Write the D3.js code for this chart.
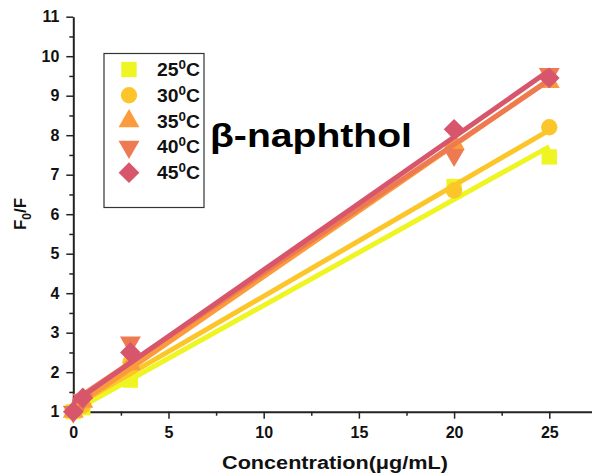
<!DOCTYPE html>
<html>
<head>
<meta charset="utf-8">
<script src="https://cdn.jsdelivr.net/npm/d3@7"></script>
<style>
  body { margin: 0; background: #fff; }
  text { font-family: "Liberation Sans", Arial, sans-serif; font-weight: bold; }
</style>
</head>
<body>
<div id="chart"></div>
<script>
// concentration values (µg/mL)
var conc = [0, 0.5, 3, 20, 25];
// F0/F at each temperature
var temps = ["25", "30", "35", "40", "45"];
var f25 = [1.0, 1.1, 1.8, 6.7, 7.45];
var f30 = [1.0, 1.15, 2.25, 6.6, 8.2];
var f35 = [1.0, 1.25, 2.2, 7.8, 9.35];
var f40 = [1.0, 1.3, 2.75, 7.5, 9.55];
var f45 = [1.0, 1.35, 2.5, 8.15, 9.45];
var colors = ["#eef522", "#fcc62a", "#fb9b3c", "#ee7a52", "#d7566c"];
var shapes = ["square", "circle", "up", "down", "diamond"];
var xTicks = [0, 5, 10, 15, 20, 25];
var yTicks = [1, 2, 3, 4, 5, 6, 7, 8, 9, 10, 11];

var series = [f25, f30, f35, f40, f45];

var width = 592, height = 475;
var svg = d3.select("#chart").append("svg")
    .attr("width", width)
    .attr("height", height);

var x = d3.scaleLinear().domain([0, 28]).range([73.3, 606.4]);
var y = d3.scaleLinear().domain([1, 11]).range([411.7, 16.7]);

// minor ticks
svg.append("g")
    .attr("transform", "translate(0,411.7)")
    .call(d3.axisBottom(x).tickValues([2.5, 7.5, 12.5, 17.5, 22.5, 27.5]).tickSize(4).tickFormat(""))
    .call(function(g) { g.select(".domain").remove(); })
    .selectAll("line").attr("stroke-width", 1.5).attr("stroke", "#222");
svg.append("g")
    .attr("transform", "translate(73.3,0)")
    .call(d3.axisLeft(y).tickValues(d3.range(1.5, 11, 1)).tickSize(4).tickFormat(""))
    .call(function(g) { g.select(".domain").remove(); })
    .selectAll("line").attr("stroke-width", 1.5).attr("stroke", "#222");

// x axis
var gx = svg.append("g")
    .attr("transform", "translate(0,411.7)")
    .call(d3.axisBottom(x).tickValues(xTicks).tickSize(7).tickPadding(8).tickSizeOuter(0));
gx.select(".domain").attr("stroke-width", 2).attr("stroke", "#222");
gx.selectAll("line").attr("stroke-width", 1.5).attr("stroke", "#222");
gx.selectAll("text").attr("font-size", "16px").attr("fill", "#111");

// y axis
var gy = svg.append("g")
    .attr("transform", "translate(73.3,0)")
    .call(d3.axisLeft(y).tickValues(yTicks).tickSize(7).tickPadding(7).tickSizeOuter(0));
gy.select(".domain").attr("stroke-width", 2).attr("stroke", "#222");
gy.selectAll("line").attr("stroke-width", 1.5).attr("stroke", "#222");
gy.selectAll("text").attr("font-size", "16px").attr("fill", "#111");

function shapePath(s) {
    if (s === "square") return d3.symbol(d3.symbolSquare, 235)();
    if (s === "circle") return d3.symbol(d3.symbolCircle, 210)();
    if (s === "diamond") return d3.symbol(d3.symbolSquare, 215)();
    return d3.symbol(d3.symbolTriangle, 190)();
}
function shapeRot(s) {
    if (s === "down") return " rotate(180)";
    if (s === "diamond") return " rotate(45)";
    return "";
}

// linear fit
function fit(xs, ys) {
    var mx = d3.mean(xs), my = d3.mean(ys);
    var sxy = 0, sxx = 0;
    xs.forEach(function(v, i) {
        sxy += (v - mx) * (ys[i] - my);
        sxx += (v - mx) * (v - mx);
    });
    var b = sxy / sxx;
    return {a: my - b * mx, b: b};
}

series.forEach(function(vals, k) {
    var g = svg.append("g");
    g.selectAll("path.pt")
        .data(vals)
        .enter().append("path")
        .attr("class", "pt")
        .attr("d", shapePath(shapes[k]))
        .attr("fill", colors[k])
        .attr("transform", function(d, i) {
            return "translate(" + x(conc[i]) + "," + y(d) + ")" + shapeRot(shapes[k]);
        });
    var f = fit(conc, vals);
    var x0 = d3.min(conc), x1 = d3.max(conc);
    g.append("line")
        .attr("x1", x(x0)).attr("y1", y(f.a + f.b * x0))
        .attr("x2", x(x1)).attr("y2", y(f.a + f.b * x1))
        .attr("stroke", colors[k])
        .attr("stroke-width", 5);
});

// legend
var leg = svg.append("g");
leg.append("rect")
    .attr("x", 104).attr("y", 53.5)
    .attr("width", 100).attr("height", 154)
    .attr("fill", "none").attr("stroke", "#333").attr("stroke-width", 1.2);
temps.forEach(function(t, k) {
    var cy = 69.5 + k * 25.8;
    leg.append("path")
        .attr("d", shapePath(shapes[k]))
        .attr("fill", colors[k])
        .attr("transform", "translate(129," + cy + ")" + shapeRot(shapes[k]));
    var tx = leg.append("text")
        .attr("x", 157).attr("y", cy + 6.5)
        .attr("font-size", "18px").attr("fill", "#111")
        .attr("textLength", 43).attr("lengthAdjust", "spacingAndGlyphs");
    tx.append("tspan").text(t);
    tx.append("tspan").attr("dy", -7).attr("font-size", "12.5px").text("0");
    tx.append("tspan").attr("dy", 7).text("C");
});

// title
svg.append("text")
    .attr("x", 210).attr("y", 147)
    .attr("font-size", "34px").attr("fill", "#000")
    .attr("textLength", 202).attr("lengthAdjust", "spacingAndGlyphs")
    .text("β-naphthol");

// axis titles
svg.append("text")
    .attr("x", 222).attr("y", 469)
    .attr("font-size", "18px").attr("fill", "#111")
    .attr("textLength", 226).attr("lengthAdjust", "spacingAndGlyphs")
    .text("Concentration(μg/mL)");

var yl = svg.append("text")
    .attr("transform", "translate(26,214) rotate(-90)")
    .attr("text-anchor", "middle")
    .attr("font-size", "17px").attr("fill", "#111");
yl.append("tspan").text("F");
yl.append("tspan").attr("dy", 5).attr("font-size", "12px").text("0");
yl.append("tspan").attr("dy", -5).text("/F");
</script>
</body>
</html>
